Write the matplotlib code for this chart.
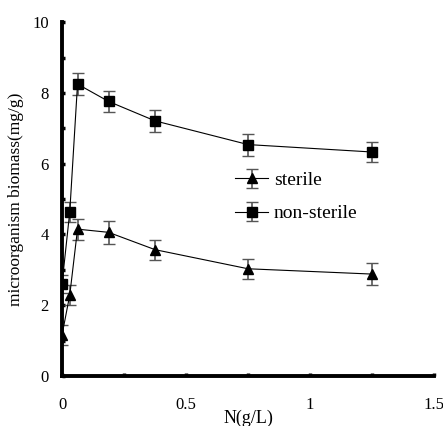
import numpy as np
import matplotlib.pyplot as plt

# N concentration (g/L)
n_conc = [0, 0.03125, 0.0625, 0.1875, 0.375, 0.75, 1.25]

sterile = [1.16, 2.29, 4.15, 4.06, 3.57, 3.03, 2.88]
sterile_err = [0.29, 0.28, 0.30, 0.32, 0.28, 0.29, 0.32]

non_sterile = [2.6, 4.64, 8.25, 7.76, 7.21, 6.54, 6.33]
non_sterile_err = [0.26, 0.29, 0.30, 0.30, 0.32, 0.31, 0.29]

plt.rcParams['font.family'] = ['Liberation Serif', 'DejaVu Serif']

fig = plt.figure(figsize=(4.43, 4.26), dpi=100)
ax = fig.add_axes([0.14, 0.1174, 0.84, 0.8306])

ax.errorbar(n_conc, sterile, yerr=sterile_err, color='black', lw=0.8,
            marker='^', markersize=7, ecolor='#555555', elinewidth=1.2,
            capsize=4, capthick=1.0, label='sterile')
ax.errorbar(n_conc, non_sterile, yerr=non_sterile_err, color='black', lw=0.8,
            marker='s', markersize=7, ecolor='#555555', elinewidth=1.2,
            capsize=4, capthick=1.0, label='non-sterile')

ax.set_xlim(0, 1.5)
ax.set_ylim(0, 10)
ax.set_xticks([0, 0.5, 1, 1.5])
ax.set_xticklabels(['0', '0.5', '1', '1.5'])
ax.set_xticks(np.arange(0, 1.51, 0.25), minor=True)
ax.set_yticks([0, 2, 4, 6, 8, 10])
ax.set_yticks(np.arange(0, 10.1, 1), minor=True)

for s in ['top', 'right']:
    ax.spines[s].set_visible(False)
for s in ['left', 'bottom']:
    ax.spines[s].set_linewidth(2.8)

ax.tick_params(axis='both', which='both', direction='in', length=2, width=2.5,
               labelsize=12)
ax.tick_params(axis='x', which='major', pad=15)
ax.tick_params(axis='y', which='major', pad=9.5)

ax.set_xlabel('N(g/L)', fontsize=13, labelpad=-2)
ax.set_ylabel('microorganism biomass(mg/g)', fontsize=12.5, labelpad=6)

handles, labels = ax.get_legend_handles_labels()
leg = ax.legend(handles, labels, loc='upper left', bbox_to_anchor=(0.418, 0.627),
                frameon=False, fontsize=14, handlelength=1.7,
                handletextpad=0.3, labelspacing=0.8)

fig.savefig('out.png', dpi=100)
